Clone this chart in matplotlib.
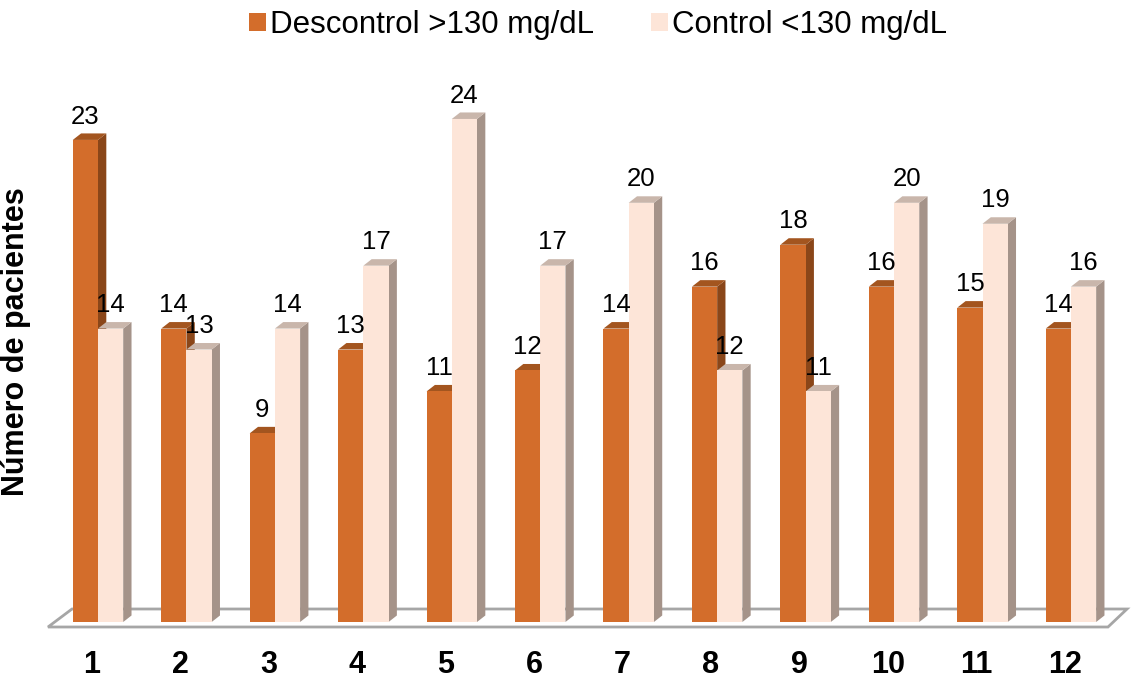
import matplotlib
matplotlib.use("Agg")
import matplotlib.pyplot as plt
from matplotlib.patches import Polygon, Patch

plt.rcParams['font.family'] = ['Liberation Sans', 'DejaVu Sans']

categories = ['1', '2', '3', '4', '5', '6', '7', '8', '9', '10', '11', '12']
descontrol = [23, 14, 9, 13, 11, 12, 14, 16, 18, 16, 15, 14]
control = [14, 13, 14, 17, 24, 17, 20, 12, 11, 20, 19, 16]
series_names = ['Descontrol >130 mg/dL', 'Control <130 mg/dL']
ylabel = 'Número de pacientes'

W, H = 1131, 682
fig = plt.figure(figsize=(W / 100, H / 100), dpi=100)
ax = fig.add_axes([0, 42 / H, 1, 1 - 42 / H])

px_per_x = 88.45
px_per_y = 20.96
x0px = 98
y0px = 622
ax.set_xlim(-x0px / px_per_x, (W - x0px) / px_per_x)
ax.set_ylim((y0px - 640) / px_per_y, y0px / px_per_y)

w = 0.285
dx = 0.094
dy = 0.31

colors = {
    'd': ('#D36D2B', '#8A4619', '#A3551F'),
    'c': ('#FDE5D8', '#A59389', '#C9B6AB'),
}

# floor
fx = lambda p: (p - x0px) / px_per_x
fy = lambda p: (y0px - p) / px_per_y
floor = Polygon([(fx(48), fy(627)), (fx(1108), fy(627)), (fx(1127), fy(609)), (fx(72), fy(609))],
                closed=True, facecolor='white', edgecolor='#A6A6A6', lw=2.0, zorder=1)
ax.add_patch(floor)


def draw_bar(xl, h, key, z):
    front, side, top = colors[key]
    ax.bar(xl, h, width=w, align='edge', color=front, edgecolor='none', zorder=z + 0.2)
    xr = xl + w
    ax.add_patch(Polygon([(xr, 0), (xr + dx, dy), (xr + dx, h + dy), (xr, h)],
                         closed=True, facecolor=side, edgecolor='none', zorder=z + 0.1))
    ax.add_patch(Polygon([(xl, h), (xl + dx, h + dy), (xr + dx, h + dy), (xr, h)],
                         closed=True, facecolor=top, edgecolor='none', zorder=z + 0.1))


for i, (d, c) in enumerate(zip(descontrol, control)):
    draw_bar(i - w, d, 'd', 2)
    draw_bar(i, c, 'c', 3)

for i, (d, c) in enumerate(zip(descontrol, control)):
    ax.text(i - w / 2, d + 0.78, str(d), ha='center', va='baseline', fontsize=18.5, color='black', zorder=10)
    ax.text(i + w / 2, c + 0.78, str(c), ha='center', va='baseline', fontsize=18.5, color='black', zorder=10)

ax.set_xticks([i - 0.07 for i in range(len(categories))])
ax.set_xticklabels(categories, fontsize=22, fontweight='bold')
ax.tick_params(axis='x', length=0, pad=7)
ax.set_yticks([])
for s in ax.spines.values():
    s.set_visible(False)
ax.patch.set_alpha(0)

fig.text(16 / W, 1 - 342 / H, ylabel, rotation=90, ha='center', va='center',
         fontsize=22, fontweight='bold')

handles = [Patch(facecolor=colors['d'][0], edgecolor='none'),
           Patch(facecolor=colors['c'][0], edgecolor='none')]
fig.legend(handles, series_names, loc='center', bbox_to_anchor=(598 / W, 1 - 25 / H), ncol=2,
           frameon=False, fontsize=22.5, handlelength=0.55, handleheight=0.55,
           handletextpad=0.15, columnspacing=1.8, borderpad=0)

fig.savefig('out.png', dpi=100)
